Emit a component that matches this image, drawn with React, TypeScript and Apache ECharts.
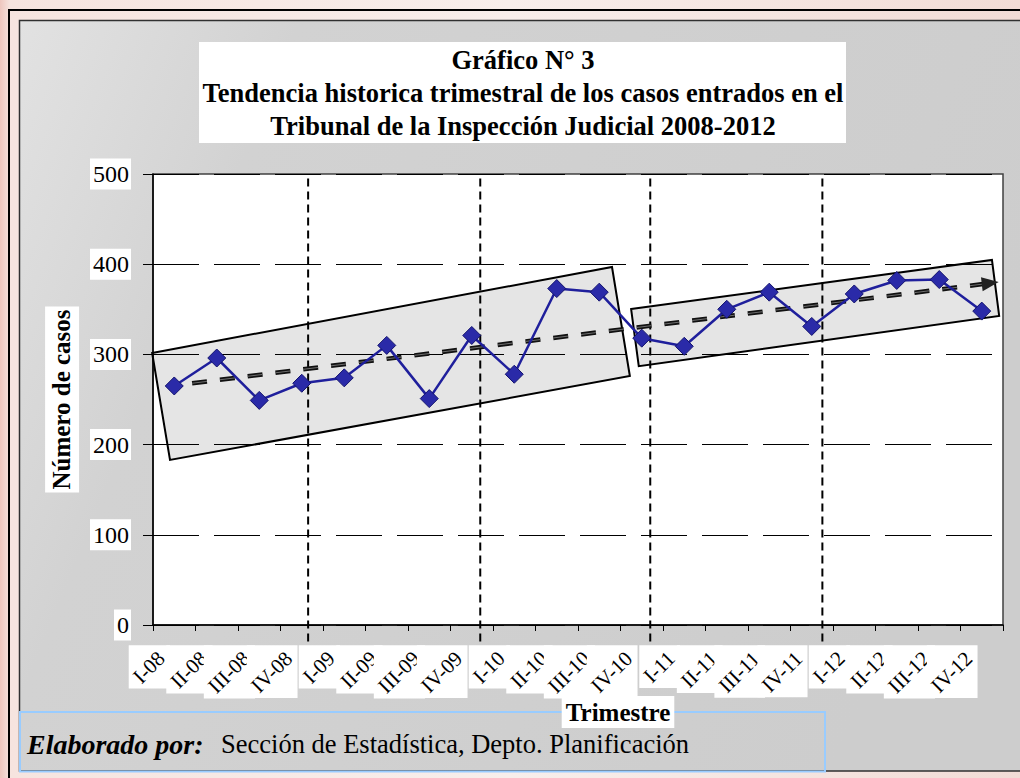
import React, { useEffect, useRef } from "react";
import * as echarts from "echarts";

const categories = [
  "I-08", "II-08", "III-08", "IV-08",
  "I-09", "II-09", "III-09", "IV-09",
  "I-10", "II-10", "III-10", "IV-10",
  "I-11", "II-11", "III-11", "IV-11",
  "I-12", "II-12", "III-12", "IV-12",
];
const casos = [265, 296, 249, 268, 274, 310, 251, 321, 278, 373, 369, 318, 309, 350, 369, 331, 367, 382, 383, 348];
const yMin = 0;
const yMax = 500;
const yStep = 100;
// trend line (category index, value)
const trendStart = [0.42, 268];
const trendEnd = [19.2, 379];
// dashed year dividers (category index) and their vertical extent (values)
const yearDividers = [3.15, 7.2, 11.2, 15.25];
const dividerRange = [-22, 495];
// shaded trend boxes (category index, value)
const box2008to2010 = [[-0.52, 301.6], [10.3, 396.9], [10.72, 276], [-0.1, 183]];
const box2011to2012 = [[10.75, 350.3], [19.24, 404.7], [19.41, 342.6], [10.93, 287]];

const titleText = "Gráfico N° 3\nTendencia historica trimestral de los casos entrados en el\nTribunal de la Inspección Judicial 2008-2012";
const yName = "Número de casos";
const xName = "Trimestre";
const footBold = "Elaborado por:";
const footText = "Sección de Estadística, Depto. Planificación";

const SERIF = '"Liberation Serif", "Times New Roman", serif';
const XLAB_SIZE = 21;
const XLAB_DX = -13;
const XLAB_DY = 30;

export default function App() {
  const ref = useRef<HTMLDivElement>(null);
  useEffect(() => {
    const chart = echarts.init(ref.current!, null, { renderer: "svg" });
    const cv = document.createElement("canvas").getContext("2d")!;
    cv.font = `${XLAB_SIZE}px ${SERIF}`;
    const boxes = [box2008to2010, box2011to2012];

    const option: any = {
      animation: false,
      grid: {
        left: 153, top: 174, width: 850, height: 451,
        show: true, backgroundColor: "#ffffff", borderColor: "#404040", borderWidth: 1.5,
      },
      xAxis: [
        {
          type: "category",
          data: categories,
          boundaryGap: true,
          axisLine: { onZero: false, lineStyle: { color: "#000", width: 1.5 } },
          axisTick: { show: true, length: 6, interval: 0, lineStyle: { color: "#000" } },
          axisLabel: { show: false },
          splitLine: { show: false },
        },
        { type: "value", min: -0.5, max: 19.5, show: false },
      ],
      yAxis: {
        type: "value", min: yMin, max: yMax, interval: yStep,
        name: yName, nameLocation: "middle", nameGap: 69, nameRotate: 90,
        nameTextStyle: {
          fontFamily: SERIF, fontSize: 25, fontWeight: "bold", color: "#000",
          backgroundColor: "#fff", padding: [4, 3, 5, 3],
        },
        axisLine: { show: true, onZero: false, lineStyle: { color: "#000", width: 1.5 } },
        axisTick: { show: true, length: 10, lineStyle: { color: "#000" } },
        axisLabel: {
          margin: 22, fontFamily: SERIF, fontSize: 24, color: "#000",
          backgroundColor: "#fff", padding: [4, 2, 3, 3],
        },
        splitLine: { show: true, lineStyle: { color: "#000", width: 1, type: [46, 15] } },
      },
      graphic: [
        {
          type: "rect", z: -20, silent: true,
          shape: { x: 0, y: 0, width: 1020, height: 778 },
          style: {
            fill: new echarts.graphic.LinearGradient(0, 0, 1, 0, [
              { offset: 0, color: "#eec6be" },
              { offset: 0.01, color: "#f6e4df" },
              { offset: 0.5, color: "#f8eeeb" },
              { offset: 1, color: "#f2dcd6" },
            ]),
          },
        },
        {
          type: "rect", z: -19, silent: true,
          shape: { x: 9, y: 10, width: 1040, height: 800 },
          style: { fill: "none", stroke: "#000", lineWidth: 2 },
        },
        {
          type: "rect", z: -18, silent: true,
          shape: { x: 19.5, y: 20.5, width: 1030, height: 750.5 },
          style: {
            fill: new echarts.graphic.LinearGradient(0, 0, 1, 0.3, [
              { offset: 0, color: "#e2e2e2" },
              { offset: 0.25, color: "#d2d2d2" },
              { offset: 1, color: "#cdcdcd" },
            ]),
            stroke: "#303030", lineWidth: 1.5,
          },
        },
        {
          type: "rect", z: -17, silent: true,
          shape: { x: 199, y: 42, width: 647, height: 101 },
          style: { fill: "#ffffff" },
        },
        {
          type: "text", z: 10, x: 523, y: 93,
          style: {
            text: titleText, font: `bold 26.5px ${SERIF}`, fill: "#000",
            align: "center", verticalAlign: "middle", lineHeight: 33,
          },
        },
        {
          type: "rect", z: 8, silent: true,
          shape: { x: 20, y: 712, width: 805, height: 59.5 },
          style: { fill: "none", stroke: "#99ccff", lineWidth: 2 },
        },
        {
          type: "text", z: 10, x: 618, y: 712,
          style: {
            text: xName, font: `bold 25px ${SERIF}`, fill: "#000",
            align: "center", verticalAlign: "middle",
            backgroundColor: "#fff", padding: [4, 4, 3, 4],
          },
        },
        {
          type: "text", z: 10, x: 27, y: 744,
          style: {
            text: footBold, font: `italic bold 28px ${SERIF}`, fill: "#000",
            align: "left", verticalAlign: "middle",
          },
        },
        {
          type: "text", z: 10, x: 221, y: 744,
          style: {
            text: footText, font: `26.5px ${SERIF}`, fill: "#000",
            align: "left", verticalAlign: "middle",
          },
        },
      ],
      series: [
        {
          name: "Etiquetas",
          type: "custom",
          xAxisIndex: 0,
          z: 1,
          silent: true,
          data: categories.map((c, i) => [i, 0]),
          renderItem: (params: any, api: any) => {
            const i = params.dataIndex;
            const p = api.coord([i, 0]);
            const label = categories[i];
            const w = cv.measureText(label).width;
            const h = XLAB_SIZE * 0.78;
            const r = Math.SQRT1_2;
            const ex = p[0] + XLAB_DX;
            const ey = p[1] + XLAB_DY;
            const x0 = ex - r * w - 0.5 * r * h - 2;
            const x1 = ex + 0.5 * r * h + 3;
            const y0 = ey - 0.5 * r * h - 4;
            const y1 = ey + r * w + 0.5 * r * h + 3;
            return {
              type: "group",
              children: [
                {
                  type: "rect",
                  shape: { x: x0, y: y0, width: x1 - x0, height: y1 - y0 },
                  style: { fill: "#ffffff" },
                },
                {
                  type: "text",
                  x: ex, y: ey, rotation: Math.PI / 4,
                  style: {
                    text: label, font: `${XLAB_SIZE}px ${SERIF}`, fill: "#000",
                    align: "right", verticalAlign: "middle",
                  },
                },
              ],
            };
          },
        },
        {
          name: "Bandas",
          type: "custom",
          xAxisIndex: 1,
          z: 2,
          silent: true,
          data: boxes.map((b) => b[0]),
          renderItem: (params: any, api: any) => {
            const pts = boxes[params.dataIndex].map((q) => api.coord(q));
            return {
              type: "polygon",
              shape: { points: pts },
              style: { fill: "rgba(0,0,0,0.10)", stroke: "#000", lineWidth: 2 },
            };
          },
        },
        {
          name: "Divisiones",
          type: "custom",
          xAxisIndex: 1,
          z: 3,
          silent: true,
          data: yearDividers.map((x) => [x, dividerRange[1]]),
          renderItem: (params: any, api: any) => {
            const x = yearDividers[params.dataIndex];
            const a = api.coord([x, dividerRange[1]]);
            const b = api.coord([x, dividerRange[0]]);
            return {
              type: "line",
              shape: { x1: a[0], y1: a[1], x2: b[0], y2: b[1] },
              style: { stroke: "#000", lineWidth: 2, lineDash: [8, 5] },
            };
          },
        },
        {
          name: "Tendencia",
          type: "line",
          xAxisIndex: 1,
          z: 4,
          data: [
            { value: trendStart, symbol: "none" },
            { value: trendEnd, symbol: "triangle", symbolSize: [14, 17], symbolRotate: -83 },
          ],
          lineStyle: { color: "#111", width: 4.5, type: [15, 13] },
          itemStyle: { color: "#222" },
        },
        {
          name: "Tendencia trama",
          type: "line",
          xAxisIndex: 1,
          z: 4,
          symbol: "none",
          data: [trendStart, trendEnd],
          lineStyle: { color: "#6e6e6e", width: 1, type: [15, 13] },
        },
        {
          name: "Casos entrados",
          type: "line",
          xAxisIndex: 0,
          z: 5,
          data: casos,
          symbol: "diamond",
          symbolSize: 18,
          lineStyle: { color: "#1f1f9c", width: 2.5 },
          itemStyle: { color: "#2a2aa8", borderColor: "#14146e", borderWidth: 1 },
        },
      ],
    };
    chart.setOption(option);
    return () => chart.dispose();
  }, []);
  return (
    <div
      ref={ref}
      style={{ position: "absolute", left: 0, top: 0, width: 1020, height: 778 }}
    />
  );
}
